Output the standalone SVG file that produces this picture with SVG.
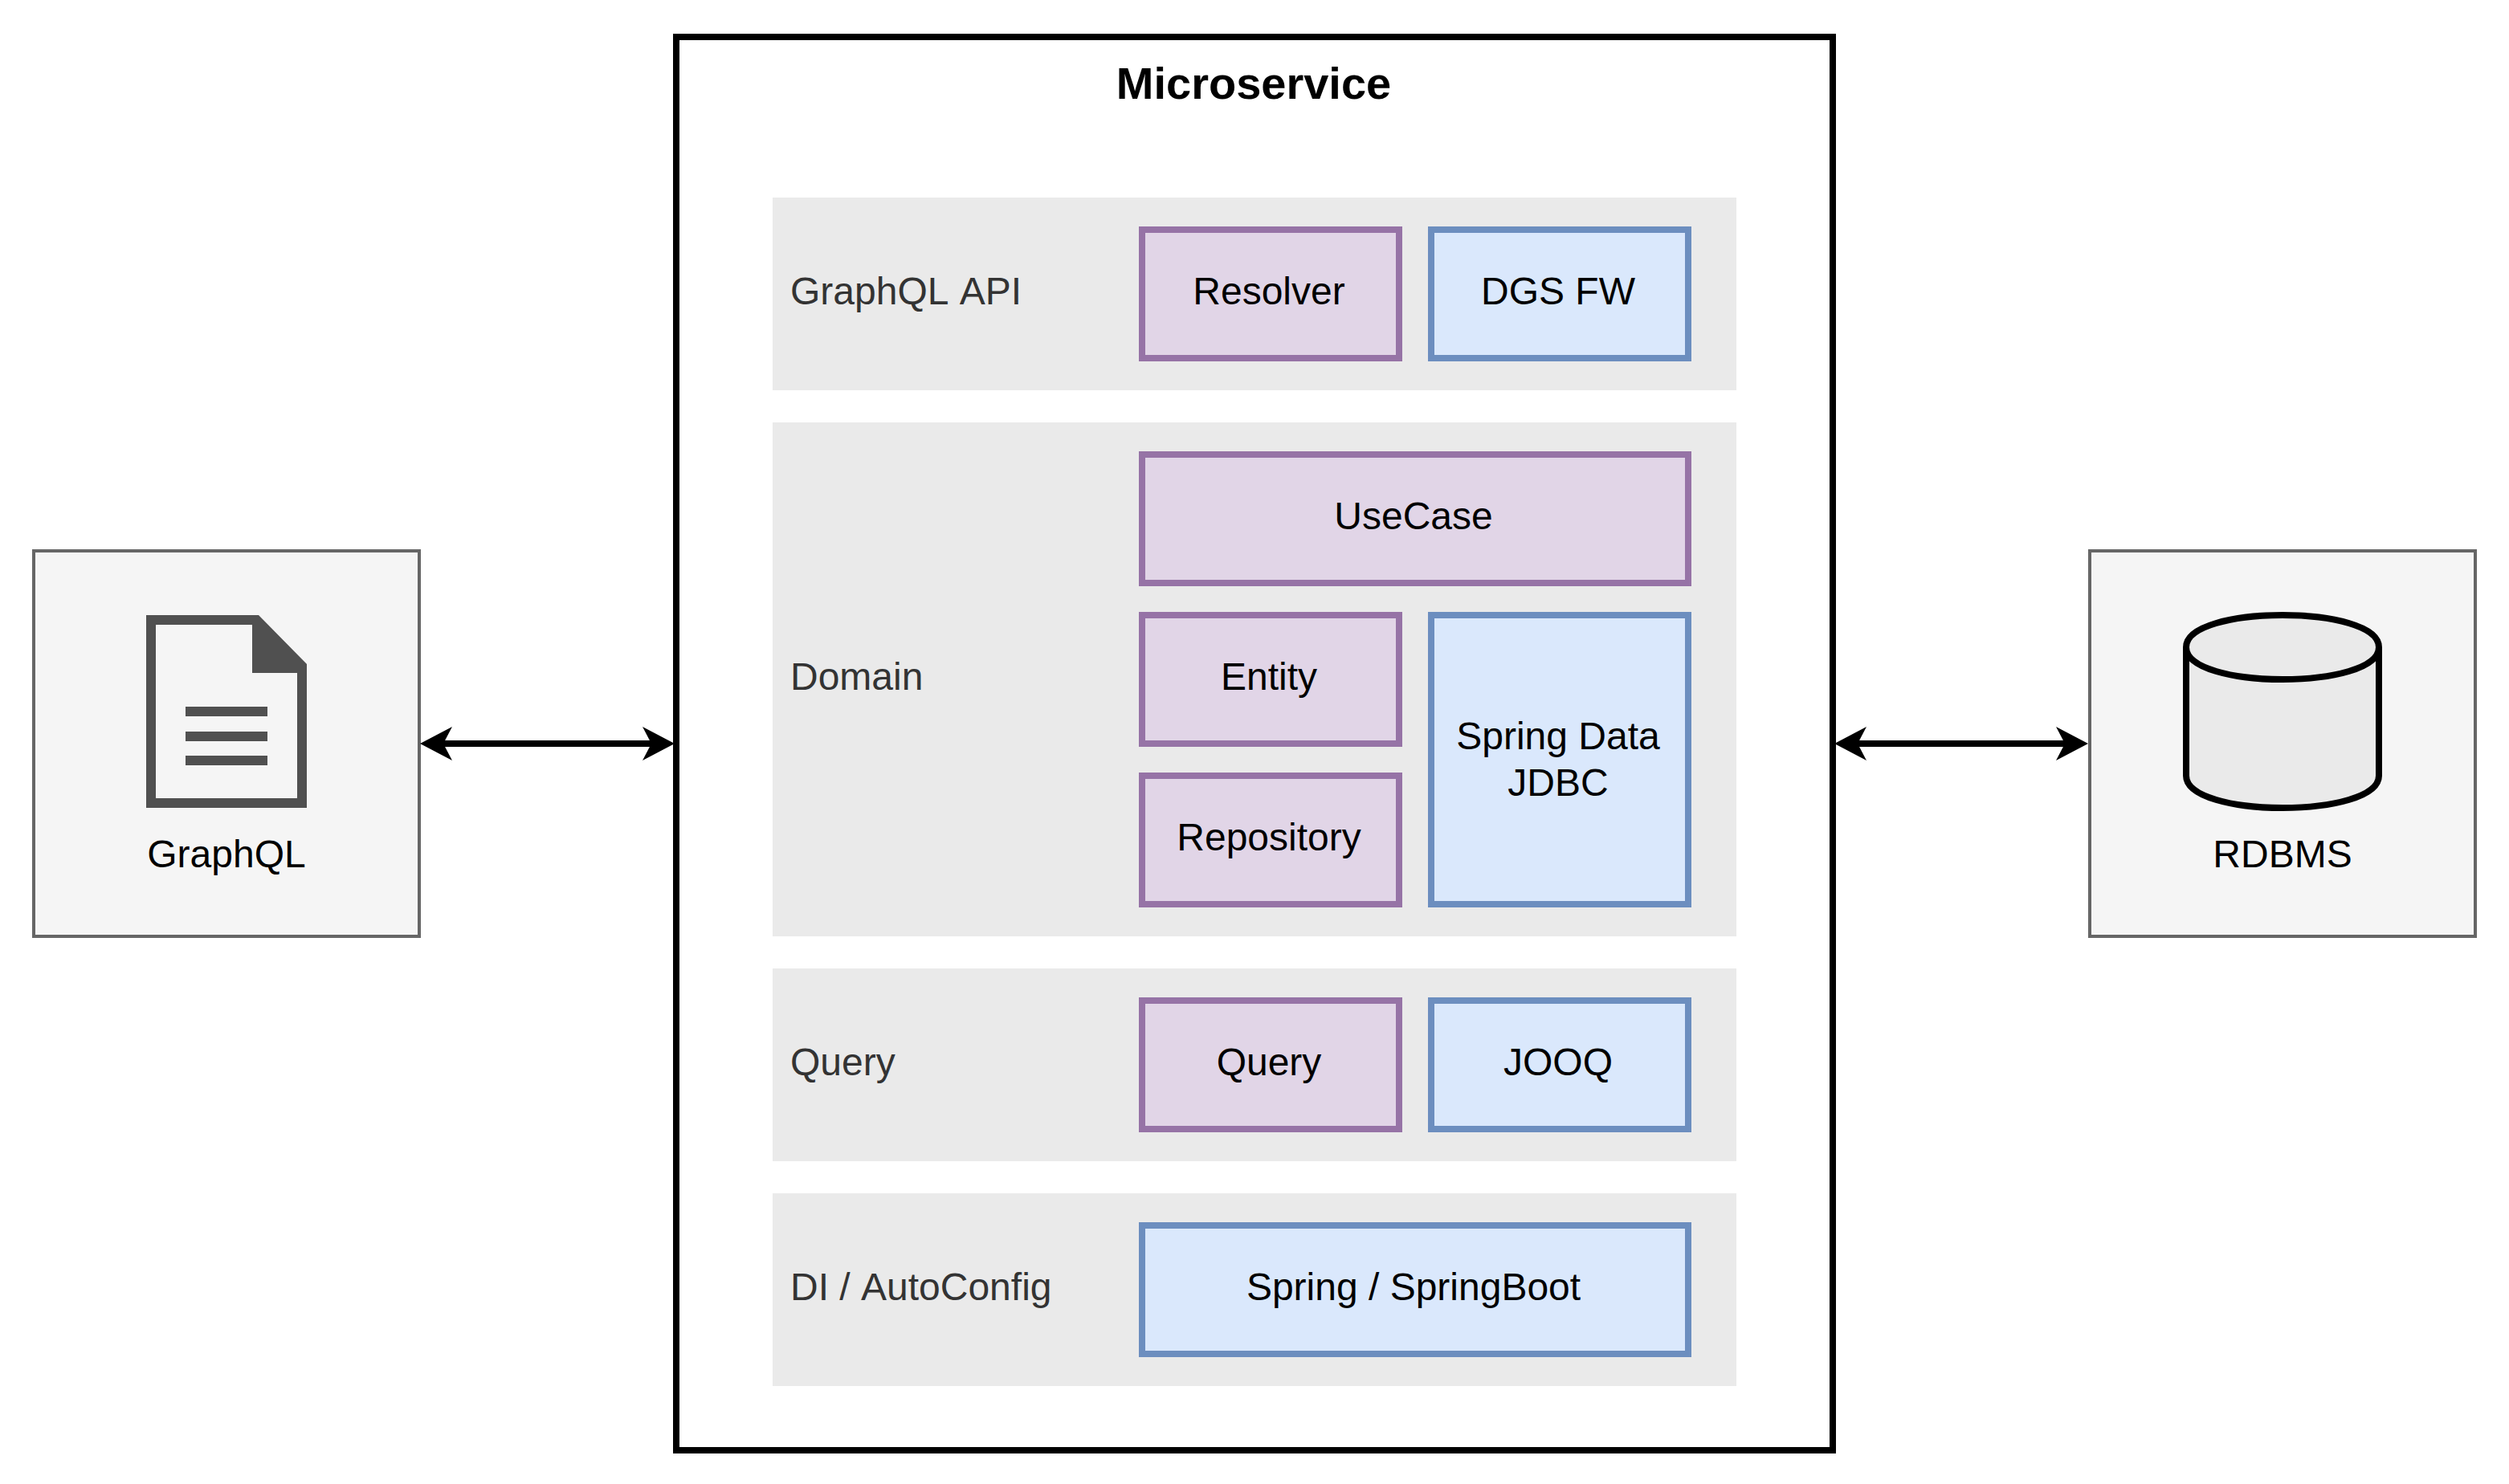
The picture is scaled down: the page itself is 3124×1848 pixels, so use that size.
<svg xmlns="http://www.w3.org/2000/svg" width="3124" height="1848" viewBox="0 0 3124 1848">
<style>
text{font-family:"Liberation Sans",Arial,sans-serif;font-size:48px;fill:#000;text-anchor:middle;font-kerning:none}
.t{font-weight:bold;font-size:56px}
.l{fill:#333;text-anchor:start}
.band{fill:#eaeaea}
.p{fill:#e1d5e7;stroke:#9673a6;stroke-width:8}
.b{fill:#dae8fc;stroke:#6c8ebf;stroke-width:8}
.ext{fill:#f5f5f5;stroke:#666;stroke-width:4}
.ic{fill:#505050}
.cyl{fill:#eaeaea;stroke:#000;stroke-width:8}
.conn{stroke:#000;stroke-width:8;fill:none;marker-start:url(#ah);marker-end:url(#ah)}
</style>
<defs>
<marker id="ah" markerUnits="userSpaceOnUse" markerWidth="42" markerHeight="44" refX="14" refY="22" orient="auto-start-reverse" viewBox="0 0 42 44"><path d="M40 22L0 1L11 22L0 43Z" fill="#000"/></marker>
</defs>
<rect width="3124" height="1848" fill="#fff"/>
<g id="microservice"><rect x="842" y="46" width="1440" height="1760" fill="#fff" stroke="#000" stroke-width="8"/><text class="t" x="1561" y="123">Microservice</text></g>
<g id="band-graphql-api"><rect class="band" x="962" y="246" width="1200" height="240"/><text class="l" x="984" y="379">GraphQL API</text></g>
<g id="band-domain"><rect class="band" x="962" y="526" width="1200" height="640"/><text class="l" x="984" y="859">Domain</text></g>
<g id="band-query"><rect class="band" x="962" y="1206" width="1200" height="240"/><text class="l" x="984" y="1339">Query</text></g>
<g id="band-di"><rect class="band" x="962" y="1486" width="1200" height="240"/><text class="l" x="984" y="1619">DI / AutoConfig</text></g>
<g id="resolver"><rect class="p" x="1422" y="286" width="320" height="160"/><text x="1580" y="379">Resolver</text></g>
<g id="dgs-fw"><rect class="b" x="1782" y="286" width="320" height="160"/><text x="1940" y="379">DGS FW</text></g>
<g id="usecase"><rect class="p" x="1422" y="566" width="680" height="160"/><text x="1760" y="659">UseCase</text></g>
<g id="entity"><rect class="p" x="1422" y="766" width="320" height="160"/><text x="1580" y="859">Entity</text></g>
<g id="repository"><rect class="p" x="1422" y="966" width="320" height="160"/><text x="1580" y="1059">Repository</text></g>
<g id="spring-data-jdbc"><rect class="b" x="1782" y="766" width="320" height="360"/><text x="1940" y="933">Spring Data</text><text x="1940" y="991">JDBC</text></g>
<g id="query"><rect class="p" x="1422" y="1246" width="320" height="160"/><text x="1580" y="1339">Query</text></g>
<g id="jooq"><rect class="b" x="1782" y="1246" width="320" height="160"/><text x="1940" y="1339">JOOQ</text></g>
<g id="spring-springboot"><rect class="b" x="1422" y="1526" width="680" height="160"/><text x="1760" y="1619">Spring / SpringBoot</text></g>
<g id="graphql"><rect class="ext" x="42" y="686" width="480" height="480"/>
<path class="ic" fill-rule="evenodd" d="M182 766H322L382 827V1006H182ZM194 778V994H370V838H314V778Z"/>
<rect class="ic" x="231" y="880" width="102" height="12"/><rect class="ic" x="231" y="911" width="102" height="12"/><rect class="ic" x="231" y="941" width="102" height="12"/>
<text x="282" y="1080">GraphQL</text></g>
<g id="rdbms"><rect class="ext" x="2602" y="686" width="480" height="480"/>
<path class="cyl" d="M2722 806C2722 752.7 2962 752.7 2962 806V966C2962 1019.3 2722 1019.3 2722 966Z"/>
<path class="cyl" fill="none" style="fill:none" d="M2722 806C2722 859.3 2962 859.3 2962 806"/>
<text x="2842" y="1080">RDBMS</text></g>
<g id="connectors">
<line class="conn" x1="549" y1="926" x2="814" y2="926"/>
<line class="conn" x1="2310" y1="926" x2="2574" y2="926"/>
</g>
</svg>
